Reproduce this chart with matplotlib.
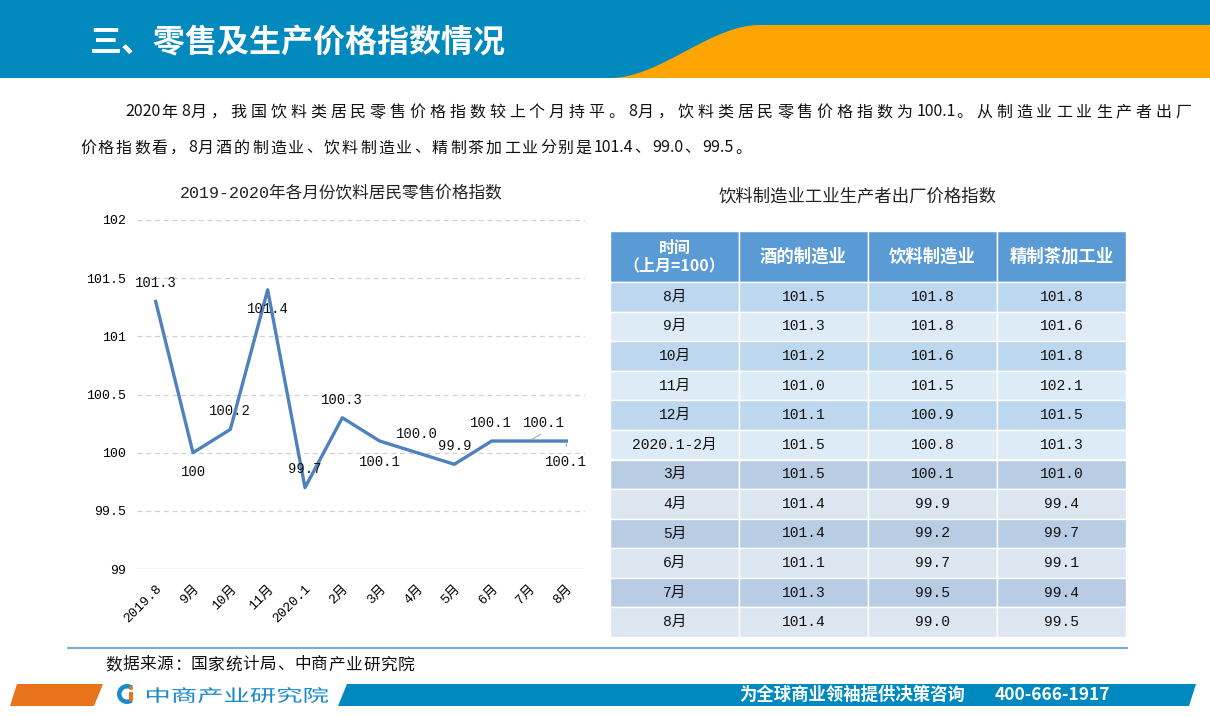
import matplotlib
matplotlib.use("Agg")
import matplotlib.pyplot as plt
import numpy as np
from matplotlib.patches import Rectangle, Polygon, Wedge, Circle, PathPatch
from matplotlib.textpath import TextPath
from matplotlib.font_manager import FontProperties
from matplotlib.transforms import Affine2D

plt.rcParams["font.family"] = ["Noto Sans CJK SC", "DejaVu Sans"]
MONO = ["Liberation Mono", "Noto Sans CJK SC"]

# ── 数据 ─────────────────────────────────────────────
months = ["2019.8", "9月", "10月", "11月", "2020.1", "2月", "3月", "4月", "5月", "6月", "7月", "8月"]
retail_idx = [101.3, 100.0, 100.2, 101.4, 99.7, 100.3, 100.1, 100.0, 99.9, 100.1, 100.1, 100.1]
retail_lbl = ["101.3", "100", "100.2", "101.4", "99.7", "100.3", "100.1", "100.0", "99.9", "100.1", "100.1", "100.1"]

tbl_header = ["时间\n（上月=100）", "酒的制造业", "饮料制造业", "精制茶加工业"]
tbl_time = ["8月", "9月", "10月", "11月", "12月", "2020.1-2月", "3月", "4月", "5月", "6月", "7月", "8月"]
wine = [101.5, 101.3, 101.2, 101.0, 101.1, 101.5, 101.5, 101.4, 101.4, 101.1, 101.3, 101.4]
drink = [101.8, 101.8, 101.6, 101.5, 100.9, 100.8, 100.1, 99.9, 99.2, 99.7, 99.5, 99.0]
tea = [101.8, 101.6, 101.8, 102.1, 101.5, 101.3, 101.0, 99.4, 99.7, 99.1, 99.4, 99.5]

title = "三、零售及生产价格指数情况"
para1 = "2020年8月，我国饮料类居民零售价格指数较上个月持平。8月，饮料类居民零售价格指数为100.1。从制造业工业生产者出厂"
para2 = "价格指数看，8月酒的制造业、饮料制造业、精制茶加工业分别是101.4、99.0、99.5。"
chart_title = "2019-2020年各月份饮料居民零售价格指数"
table_title = "饮料制造业工业生产者出厂价格指数"
source = "数据来源：国家统计局、中商产业研究院"
logo = "中商产业研究院"
slogan = "为全球商业领袖提供决策咨询"
phone = "400-666-1917"

W, H = 1210, 716
fig = plt.figure(figsize=(W / 100, H / 100), dpi=100)
renderer = fig.canvas.get_renderer()

# 背景层，像素坐标
bg = fig.add_axes([0, 0, 1, 1])
bg.set_xlim(0, W); bg.set_ylim(H, 0); bg.axis("off")


def spaced(x, y, s, adv_w, width=None, **kw):
    # 全角字符逐个按固定步长排，半角连续串整体排
    runs = []
    for ch in s:
        wide = ord(ch) > 0x2000
        if not wide and runs and not runs[-1][1]:
            runs[-1][0] += ch
        else:
            runs.append([ch, wide])
    widths = []
    for txt, wide in runs:
        if wide:
            widths.append(adv_w)
        else:
            tt = bg.text(0, 0, txt, **kw)
            widths.append(tt.get_window_extent(renderer).width + 1)
            tt.remove()
    k = (width - sum(w for w, (_, wd) in zip(widths, runs) if not wd)) / \
        sum(w for w, (_, wd) in zip(widths, runs) if wd) if width else 1.0
    for (txt, wide), w in zip(runs, widths):
        bg.text(x, y, txt, ha="left", va="center", **kw)
        x += w * k if wide else w


# ── 顶部标题栏 ──
bg.add_patch(Rectangle((0, 0), W, 78, color="#0289BD", lw=0))
t = np.linspace(0, 1, 60)
s = t * t * (3 - 2 * t)
poly = list(zip(610 + 150 * t, 78 - 53 * s)) + [(W, 25), (W, 78)]
bg.add_patch(Polygon(poly, closed=True, color="#FFA502", lw=0))
bg.text(90, 42, title, color="white", fontsize=23, fontweight="bold", va="center", ha="left")

# ── 正文 ──
spaced(125, 112, para1, 17.8, width=1070, fontsize=11.5, color="#111111")
spaced(80, 148, para2, 18.0, fontsize=11.5, color="#111111")

# ── 折线图 ──
bg.text(341, 193, chart_title, fontsize=12, ha="center", va="center", color="#222222", family=MONO)
L, R, T, B = 137, 585, 220, 569
ax = fig.add_axes([L / W, 1 - B / H, (R - L) / W, (B - T) / H])
x = np.arange(len(months))
ax.plot(x, retail_idx, color="#4F81BD", lw=2.4, zorder=3)
ax.set_xlim(-0.5, len(months) - 0.5)
ax.set_ylim(99, 102)
ax.set_yticks([99, 99.5, 100, 100.5, 101, 101.5, 102])
ax.set_yticklabels(["99", "99.5", "100", "100.5", "101", "101.5", "102"], fontsize=9.5, family=MONO)
for yv in [99.5, 100, 100.5, 101, 101.5, 102]:
    ax.axhline(yv, color="#D0D0D0", lw=0.9, ls=(0, (4, 3)), zorder=1)
ax.axhline(99, color="#D0D0D0", lw=1.0, zorder=1)
for sp in ax.spines.values():
    sp.set_visible(False)
ax.tick_params(length=0, pad=8)
ax.set_xticks(x)
ax.set_xticklabels(months, rotation=45, ha="right", va="top", rotation_mode="anchor",
                   fontsize=9.5, family=MONO)
ax.tick_params(axis="x", pad=10)
ax.patch.set_alpha(0)

# 数据标签位置（像素偏移，正为上）
lbl_dy = [18, -19, 18, -19, 19, 18, -21, 19, 18, 18, 18, -21]
lbl_dx = [0, 1, 0, 0, 0, 0, 0, 0, 0, -1, 15, 0]
for i, (v, s_) in enumerate(zip(retail_idx, retail_lbl)):
    ax.annotate(s_, (i, v), xytext=(lbl_dx[i] * 0.72, lbl_dy[i] * 0.72), textcoords="offset points",
                ha="center", va="center", fontsize=10, color="#111111", zorder=4, family=MONO)
ax.annotate("", (10, retail_idx[10]), xytext=(14 * 0.72, 8 * 0.72), textcoords="offset points",
            arrowprops=dict(arrowstyle="-", color="#A6A6A6", lw=0.8))
ax.annotate("", (11, retail_idx[11]), xytext=(0, -8 * 0.72), textcoords="offset points",
            arrowprops=dict(arrowstyle="-", color="#A6A6A6", lw=0.8))

# ── 表格 ──
bg.text(858, 197, table_title, fontsize=12.5, ha="center", va="center", color="#222222")
col_x = [610, 739, 868, 997, 1126]
hdr_top, hdr_bot, tbl_bot = 231, 282, 637
row_h = (tbl_bot - hdr_bot) / len(tbl_time)
for c in range(4):
    bg.add_patch(Rectangle((col_x[c], hdr_top), col_x[c + 1] - col_x[c], hdr_bot - hdr_top,
                           facecolor="#5B9BD5", edgecolor="white", lw=1))
    bg.text((col_x[c] + col_x[c + 1]) / 2, (hdr_top + hdr_bot) / 2, tbl_header[c], color="white",
            fontsize=12.5 if c else 11.5, fontweight="bold", ha="center", va="center", linespacing=1.1)
dark = ["#BDD7EE"] * 6 + ["#B8CCE4"] * 6
light = ["#DDEBF7"] * 6 + ["#DCE6F1"] * 6
for r in range(len(tbl_time)):
    y0 = hdr_bot + r * row_h
    fc = dark[r] if r % 2 == 0 else light[r]
    vals = [tbl_time[r], f"{wine[r]:.1f}", f"{drink[r]:.1f}", f"{tea[r]:.1f}"]
    for c in range(4):
        bg.add_patch(Rectangle((col_x[c], y0), col_x[c + 1] - col_x[c], row_h,
                               facecolor=fc, edgecolor="white", lw=1))
        bg.text((col_x[c] + col_x[c + 1]) / 2, y0 + row_h / 2, vals[c], fontsize=10.5,
                ha="center", va="center", color="#111111", family=MONO)

# ── 底部 ──
bg.plot([68, 1127], [648, 648], color="#5B9BD5", lw=1.2)
spaced(105, 665, source, 17.2, fontsize=12, color="#111111")
bg.add_patch(Polygon([(17, 684), (103, 684), (94, 706), (10, 706)], closed=True, color="#E8731A", lw=0))
bg.add_patch(Polygon([(347, 684), (1196, 684), (1189, 706), (338, 706)], closed=True, color="#0089BF", lw=0))

# logo 图标
bg.add_patch(Wedge((127, 694), 10, 55, 305, width=4.5, color="#1B8AC9", lw=0))
bg.add_patch(Rectangle((129, 692), 3.5, 9, color="#E8731A", lw=0))
bg.add_patch(Circle((131, 688), 2, color="#E8731A", lw=0))
# logo 文字（横向拉宽）
tp = TextPath((0, 0), logo, size=17, prop=FontProperties(family="Noto Sans CJK SC", weight="medium"))
bb = tp.get_extents()
sx = (328 - 147) / bb.width
tr = Affine2D().translate(-bb.x0, -bb.y0).scale(sx, -1.0).translate(147, 703)
bg.add_patch(PathPatch(tr.transform_path(tp), color="#1B8AC9", lw=0))

bg.text(965, 695, slogan, fontsize=12.5, color="white", fontweight="bold", ha="right", va="center")
bg.text(995, 695, phone, fontsize=12.5, color="white", fontweight="bold", ha="left", va="center")

fig.savefig("out.png", dpi=100)
